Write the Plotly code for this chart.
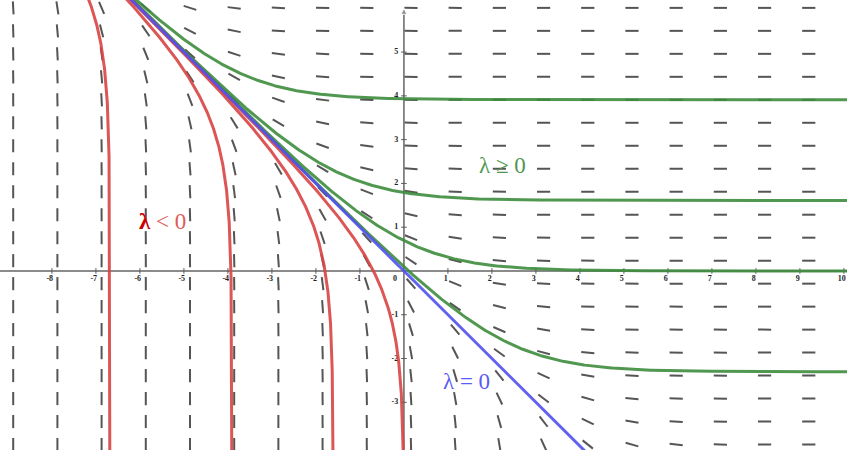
import numpy as np
import plotly.graph_objects as go

# family of solutions of y' = -exp(-(x+y)):  y = ln(lambda + exp(-x))
lam_pos = [50, 5, 1, 0.1]
lam_neg = [-800, -50, -5, -1]
lam_zero = 0

x_ticks = [-8, -7, -6, -5, -4, -3, -2, -1, 1, 2, 3, 4, 5, 6, 7, 8, 9, 10]
y_ticks = [-3, -2, -1, 1, 2, 3, 4, 5]

# slope field grid (centres of the little segments)
field_x = [-8.88 + i * 1.0045 for i in range(19)]
field_y = [6.01 - j * 0.525 for j in range(20)]

X_RANGE = [-9.18, 10.07]
Y_RANGE = [-4.09, 6.19]

GREEN = "rgb(62,140,62)"
RED = "rgb(218,68,68)"
BLUE = "rgb(82,82,240)"
GRAY = "rgb(85,85,85)"

fig = go.Figure()

# slope field
seg_len = 0.30
sx, sy = [], []
for x0 in field_x:
    for y0 in field_y:
        m = -np.exp(-(x0 + y0))
        dx = seg_len / 2 / np.sqrt(1 + m * m)
        dy = m * dx
        sx += [x0 - dx, x0 + dx, None]
        sy += [y0 - dy, y0 + dy, None]
fig.add_trace(go.Scatter(x=sx, y=sy, mode="lines",
                         line=dict(color=GRAY, width=2), hoverinfo="skip"))

# axes
fig.add_trace(go.Scatter(x=X_RANGE, y=[0, 0], mode="lines",
                         line=dict(color="rgb(100,100,100)", width=1.5), hoverinfo="skip"))
fig.add_trace(go.Scatter(x=[0, 0], y=[Y_RANGE[0], 6.0], mode="lines+markers",
                         marker=dict(symbol=["circle", "arrow-up"], size=[0, 6],
                                     color="rgb(100,100,100)"),
                         line=dict(color="rgb(100,100,100)", width=1.5), hoverinfo="skip"))
fig.add_trace(go.Scatter(x=x_ticks, y=[0] * len(x_ticks), mode="markers",
                         marker=dict(symbol="line-ns", size=4,
                                     line=dict(color="rgb(90,90,90)", width=1)),
                         hoverinfo="skip"))
fig.add_trace(go.Scatter(x=[0] * len(y_ticks), y=y_ticks, mode="markers",
                         marker=dict(symbol="line-ew", size=4,
                                     line=dict(color="rgb(90,90,90)", width=1)),
                         hoverinfo="skip"))
tick_font = dict(family="Liberation Serif", size=8, color="rgb(30,30,30)")
fig.add_trace(go.Scatter(x=[t - 0.05 for t in x_ticks], y=[-0.18] * len(x_ticks),
                         mode="text", text=["<b>%d</b>" % t for t in x_ticks],
                         textfont=tick_font, hoverinfo="skip"))
fig.add_trace(go.Scatter(x=[-0.13] * len(y_ticks), y=y_ticks, mode="text",
                         text=["<b>%d</b>" % t for t in y_ticks],
                         textposition="middle left", textfont=tick_font, hoverinfo="skip"))
fig.add_trace(go.Scatter(x=[-0.2], y=[-0.18], mode="text", text=["<b>0</b>"],
                         textfont=tick_font, hoverinfo="skip"))

# lambda > 0
xs = np.linspace(X_RANGE[0] - 0.1, X_RANGE[1] + 0.1, 900)
for lam in lam_pos:
    fig.add_trace(go.Scatter(x=xs, y=np.log(lam + np.exp(-xs)), mode="lines",
                             line=dict(color=GREEN, width=3), opacity=0.9,
                             hoverinfo="skip"))

# lambda < 0 (parametrised by y, vertical asymptote at x = -ln(-lambda))
ys = np.linspace(Y_RANGE[0] - 0.1, Y_RANGE[1] + 0.1, 900)
for lam in lam_neg:
    fig.add_trace(go.Scatter(x=-np.log(np.exp(ys) - lam), y=ys, mode="lines",
                             line=dict(color=RED, width=3), opacity=0.9,
                             hoverinfo="skip"))

# lambda = 0
fig.add_trace(go.Scatter(x=xs, y=np.log(lam_zero + np.exp(-xs)), mode="lines",
                         line=dict(color=BLUE, width=3), opacity=0.9, hoverinfo="skip"))

lab_font = dict(family="Liberation Serif", size=23)
fig.add_annotation(x=-5.48, y=1.12, showarrow=False, font=lab_font,
                   text="<span style='color:rgb(200,0,0)'><b>λ</b></span>"
                        "<span style='color:rgb(225,90,90)'> &lt; 0</span>")
fig.add_annotation(x=2.25, y=2.42, showarrow=False, font=dict(lab_font, color="rgb(80,150,80)"),
                   text="λ ≥ 0")
fig.add_annotation(x=1.43, y=-2.53, showarrow=False, font=dict(lab_font, color="rgb(90,90,245)"),
                   text="λ = 0")

fig.update_layout(
    width=847, height=450, autosize=False,
    margin=dict(l=0, r=0, t=0, b=0),
    showlegend=False,
    plot_bgcolor="white", paper_bgcolor="white",
    xaxis=dict(range=X_RANGE, visible=False, showgrid=False, zeroline=False),
    yaxis=dict(range=Y_RANGE, visible=False, showgrid=False, zeroline=False),
)

fig.write_html("out.html", config={"displayModeBar": False},
               post_script="document.body.style.margin='0';")
